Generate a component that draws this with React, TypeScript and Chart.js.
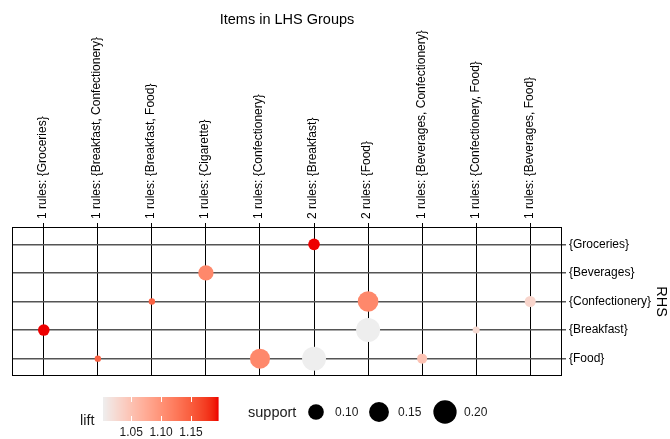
import React, { useEffect, useRef } from 'react';
import { Chart, registerables } from 'chart.js';

Chart.register(...registerables);

// ---------------- data ----------------
const chartTitle = 'Items in LHS Groups';
const lhsLabels = [
  '1 rules: {Groceries}',
  '1 rules: {Breakfast, Confectionery}',
  '1 rules: {Breakfast, Food}',
  '1 rules: {Cigarette}',
  '1 rules: {Confectionery}',
  '2 rules: {Breakfast}',
  '2 rules: {Food}',
  '1 rules: {Beverages, Confectionery}',
  '1 rules: {Confectionery, Food}',
  '1 rules: {Beverages, Food}',
];
const rhsLabels = ['{Groceries}', '{Beverages}', '{Confectionery}', '{Breakfast}', '{Food}'];
const rhsTitle = 'RHS';

// one entry per group/rule cell
const ruleLhs = [0, 1, 2, 3, 4, 5, 5, 6, 6, 7, 8, 9];
const ruleRhs = [
  '{Breakfast}', '{Food}', '{Confectionery}', '{Beverages}', '{Food}',
  '{Groceries}', '{Food}', '{Confectionery}', '{Breakfast}', '{Food}',
  '{Breakfast}', '{Confectionery}',
];
const ruleSupport = [0.062, 0.031, 0.031, 0.096, 0.152, 0.063, 0.211, 0.161, 0.211, 0.051, 0.034, 0.058];
const ruleLift = [1.195, 1.145, 1.145, 1.11, 1.11, 1.195, 1.003, 1.11, 1.003, 1.05, 1.025, 1.03];

const liftLimits = [1.003, 1.195];
const liftTicks = [1.05, 1.1, 1.15];
const supportBreaks = [0.1, 0.15, 0.2];

// ---------------- styling helpers ----------------
const FONT = "'Liberation Sans', Arial, sans-serif";
const LOW = '#EEEEEE';
const HIGH = '#EE0000';

function toLin(c: number) {
  c /= 255;
  return c <= 0.04045 ? c / 12.92 : Math.pow((c + 0.055) / 1.055, 2.4);
}
function toSrgb(c: number) {
  const v = c <= 0.0031308 ? 12.92 * c : 1.055 * Math.pow(c, 1 / 2.4) - 0.055;
  return Math.round(Math.max(0, Math.min(1, v)) * 255);
}
const Xn = 0.95047, Yn = 1, Zn = 1.08883;
const fl = (t: number) => (t > 0.008856 ? Math.cbrt(t) : 7.787 * t + 16 / 116);
const finv = (t: number) => (t > 0.206893 ? t * t * t : (t - 16 / 116) / 7.787);
function hexToLab(hex: string) {
  const r = toLin(parseInt(hex.slice(1, 3), 16));
  const g = toLin(parseInt(hex.slice(3, 5), 16));
  const b = toLin(parseInt(hex.slice(5, 7), 16));
  const X = 0.4124 * r + 0.3576 * g + 0.1805 * b;
  const Y = 0.2126 * r + 0.7152 * g + 0.0722 * b;
  const Z = 0.0193 * r + 0.1192 * g + 0.9505 * b;
  return [116 * fl(Y / Yn) - 16, 500 * (fl(X / Xn) - fl(Y / Yn)), 200 * (fl(Y / Yn) - fl(Z / Zn))];
}
function labToRgb(L: number, a: number, bb: number) {
  const fy = (L + 16) / 116;
  const fx = fy + a / 500;
  const fz = fy - bb / 200;
  const X = Xn * finv(fx), Y = Yn * finv(fy), Z = Zn * finv(fz);
  const r = 3.2406 * X - 1.5372 * Y - 0.4986 * Z;
  const g = -0.9689 * X + 1.8758 * Y + 0.0415 * Z;
  const b = 0.0557 * X - 0.204 * Y + 1.057 * Z;
  return `rgb(${toSrgb(r)},${toSrgb(g)},${toSrgb(b)})`;
}
const labLow = hexToLab(LOW);
const labHigh = hexToLab(HIGH);
function liftColor(lift: number) {
  let t = (lift - liftLimits[0]) / (liftLimits[1] - liftLimits[0]);
  t = Math.max(0, Math.min(1, t));
  return labToRgb(
    labLow[0] + (labHigh[0] - labLow[0]) * t,
    labLow[1] + (labHigh[1] - labLow[1]) * t,
    labLow[2] + (labHigh[2] - labLow[2]) * t,
  );
}
function supportRadius(s: number) {
  return Math.sqrt(Math.max(2970 * s - 51, 9)) / 2;
}

// ---------------- plugins ----------------
const framePlugin = {
  id: 'frame',
  beforeDatasetsDraw(chart: any) {
    const { ctx, chartArea } = chart;
    ctx.save();
    ctx.strokeStyle = '#000';
    ctx.lineWidth = 1;
    ctx.strokeRect(
      Math.round(chartArea.left) + 0.5,
      Math.round(chartArea.top) + 0.5,
      Math.round(chartArea.right - chartArea.left) - 1,
      Math.round(chartArea.bottom - chartArea.top) - 1,
    );
    ctx.restore();
  },
};

const decorPlugin = {
  id: 'decor',
  afterDraw(chart: any) {
    const { ctx, chartArea } = chart;
    ctx.save();
    // title
    ctx.fillStyle = '#000';
    ctx.font = `14.5px ${FONT}`;
    ctx.textAlign = 'center';
    ctx.textBaseline = 'middle';
    ctx.fillText(chartTitle, (chartArea.left + chartArea.right) / 2, 20);

    // lift legend
    ctx.fillStyle = '#1a1a1a';
    ctx.textAlign = 'left';
    ctx.textBaseline = 'alphabetic';
    ctx.font = `14.5px ${FONT}`;
    ctx.fillText('lift', 80, 425);

    const barL = 103, barR = 218, barT = 397, barB = 421;
    const steps = 115;
    for (let i = 0; i < steps; i++) {
      const v = liftLimits[0] + ((i + 0.5) / steps) * (liftLimits[1] - liftLimits[0]);
      ctx.fillStyle = liftColor(v);
      ctx.fillRect(barL + (i * (barR - barL)) / steps, barT, (barR - barL) / steps + 0.6, barB - barT);
    }
    const lx = (v: number) => barL + ((v - liftLimits[0]) / (liftLimits[1] - liftLimits[0])) * (barR - barL);
    ctx.strokeStyle = '#ffffff';
    ctx.lineWidth = 1;
    liftTicks.forEach((v) => {
      const x = Math.round(lx(v)) + 0.5;
      ctx.beginPath();
      ctx.moveTo(x, barT);
      ctx.lineTo(x, barT + 5);
      ctx.moveTo(x, barB);
      ctx.lineTo(x, barB - 5);
      ctx.stroke();
    });
    ctx.fillStyle = '#1a1a1a';
    ctx.font = `12px ${FONT}`;
    ctx.textAlign = 'center';
    ctx.textBaseline = 'middle';
    liftTicks.forEach((v) => ctx.fillText(v.toFixed(2), lx(v), 433));

    // support legend
    ctx.textAlign = 'left';
    ctx.font = `14.5px ${FONT}`;
    ctx.fillText('support', 248, 413);
    const cx = [316, 379, 445];
    ctx.font = `12px ${FONT}`;
    supportBreaks.forEach((s, i) => {
      ctx.fillStyle = '#000';
      ctx.beginPath();
      ctx.arc(cx[i], 412, supportRadius(s), 0, Math.PI * 2);
      ctx.fill();
      ctx.fillStyle = '#1a1a1a';
      ctx.fillText(s.toFixed(2), cx[i] + 19, 413);
    });
    ctx.restore();
  },
};

export default function App() {
  const ref = useRef<HTMLCanvasElement | null>(null);
  useEffect(() => {
    document.body.style.margin = '0';
    Chart.defaults.font.family = FONT;
    const canvas = ref.current!;
    const points = ruleLhs.map((l, i) => ({
      x: l + 1,
      y: rhsLabels.indexOf(ruleRhs[i]) + 1,
      r: supportRadius(ruleSupport[i]),
    }));
    const chart = new Chart(canvas, {
      type: 'bubble',
      data: {
        datasets: [
          {
            data: points,
            backgroundColor: ruleLift.map(liftColor),
            borderWidth: 0,
            hoverBorderWidth: 0,
          } as any,
        ],
      },
      options: {
        responsive: false,
        animation: false,
        events: [],
        layout: { padding: { left: 12, top: 0, right: 0, bottom: 63 } },
        plugins: { legend: { display: false }, tooltip: { enabled: false }, title: { display: false } },
        scales: {
          x: {
            type: 'linear',
            position: 'top',
            min: 0.412,
            max: 10.588,
            afterBuildTicks: (s: any) => {
              s.ticks = lhsLabels.map((_, i) => ({ value: i + 1 }));
            },
            afterFit: (s: any) => {
              s.height = 227;
            },
            ticks: {
              autoSkip: false,
              minRotation: 90,
              maxRotation: 90,
              padding: 4,
              labelOffset: 13.5,
              color: '#000',
              font: { family: FONT, size: 12 },
              callback: (v: any) => lhsLabels[Math.round(v) - 1] ?? '',
            },
            grid: { color: '#000', lineWidth: 1, tickLength: 4, drawTicks: true },
            border: { display: false },
          },
          y: {
            type: 'linear',
            position: 'right',
            min: 0.393,
            max: 5.607,
            reverse: true,
            afterBuildTicks: (s: any) => {
              s.ticks = rhsLabels.map((_, i) => ({ value: i + 1 }));
            },
            afterFit: (s: any) => {
              s.width = 108;
            },
            ticks: {
              autoSkip: false,
              padding: 3,
              color: '#000',
              font: { family: FONT, size: 12 },
              callback: (v: any) => rhsLabels[Math.round(v) - 1] ?? '',
            },
            grid: { color: '#555', lineWidth: 1.5, tickLength: 4, drawTicks: true },
            border: { display: false },
            title: { display: true, text: rhsTitle, color: '#000', font: { family: FONT, size: 14.5 }, padding: 0 },
          },
        },
      } as any,
      plugins: [framePlugin, decorPlugin],
    });
    return () => chart.destroy();
  }, []);
  return (
    <div style={{ width: 670, height: 439 }}>
      <canvas ref={ref} width={670} height={439} style={{ display: 'block', width: 670, height: 439 }} />
    </div>
  );
}
